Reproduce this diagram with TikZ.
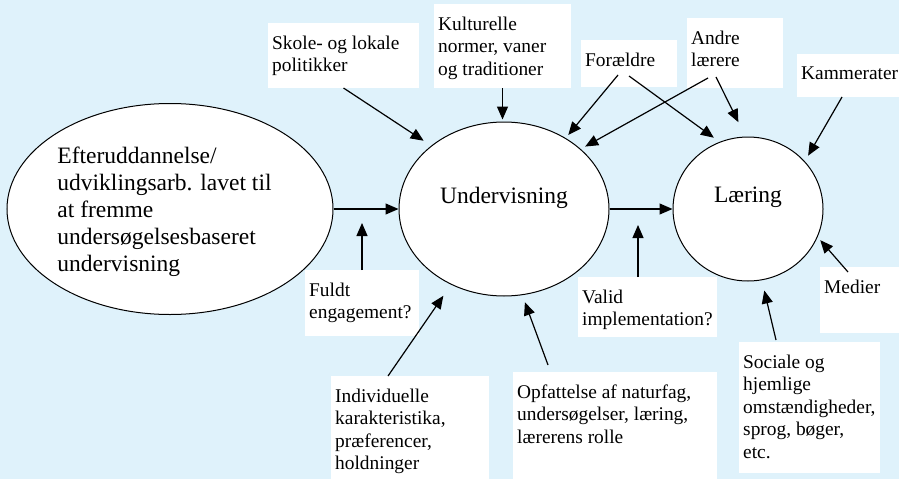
\documentclass[tikz,border=0pt]{standalone}
\usepackage{fontspec}
\setmainfont{Liberation Serif}
\usetikzlibrary{shapes.geometric, arrows.meta, positioning}
\definecolor{bgblue}{RGB}{223,242,251}

\begin{document}
\begin{tikzpicture}[x=1pt, y=-1pt,
    bubble/.style={ellipse, draw, fill=white, line width=1pt, inner sep=0pt},
    infobox/.style={rectangle, fill=white, anchor=north west, inner sep=0pt, outer sep=0pt},
    boxtext/.style={anchor=north west, align=left, inner xsep=4pt, inner ysep=12.5pt,
      font=\fontsize{19.4}{22.5}\selectfont},
    bigtext/.style={align=left, inner sep=0pt, font=\fontsize{23.5}{27}\selectfont},
    pil/.style={-{Triangle[length=13pt,width=11pt]}, line width=1.2pt}]
			\useasboundingbox (0,0) rectangle (899,479);
			\fill[bgblue] (0,0) rectangle (899,479);
			
			% de tre ellipser
			\node[bubble, minimum width=326pt, minimum height=211pt,
			  label={[bigtext, xshift=-5.5pt, yshift=-3pt]center:{Efteruddannelse/\\udviklingsarb. lavet til\\at fremme\\undersøgelsesbaseret\\undervisning}}] (efter) at (170,209) {};
			\node[bubble, minimum width=210pt, minimum height=174pt,
			  label={[bigtext, yshift=11.5pt]center:Undervisning}] (und) at (504,209) {};
			\node[bubble, minimum width=150pt, minimum height=144pt,
			  label={[bigtext, yshift=11.5pt]center:Læring}] (lae) at (748,209) {};
			
			% hvide tekstbokse
			\node[infobox, minimum width=151pt, minimum height=65pt,
			  label={[boxtext]north west:{Skole- og lokale\\politikker}}] (skole) at (268,23) {};
			\node[infobox, minimum width=137pt, minimum height=84pt,
			  label={[boxtext]north west:{Kulturelle\\normer, vaner\\og traditioner}}] (kultur) at (434,4) {};
			\node[infobox, minimum width=96pt, minimum height=47pt,
			  label={[boxtext]north west:{Forældre}}] (foraeldre) at (581,40) {};
			\node[infobox, minimum width=96pt, minimum height=70pt,
			  label={[boxtext]north west:{Andre\\lærere}}] (andre) at (687,18) {};
			\node[infobox, minimum width=102pt, minimum height=43pt,
			  label={[boxtext]north west:{Kammerater}}] (kammerat) at (797,54) {};
			\node[infobox, minimum width=114pt, minimum height=66pt,
			  label={[boxtext]north west:{Fuldt\\engagement?}}] (fuldt) at (305,270) {};
			\node[infobox, minimum width=139pt, minimum height=60pt,
			  label={[boxtext]north west:{Valid\\implementation?}}] (valid) at (578,277) {};
			\node[infobox, minimum width=79pt, minimum height=66pt,
			  label={[boxtext]north west:{Medier}}] (medier) at (820,267) {};
			\node[infobox, minimum width=158pt, minimum height=103pt,
			  label={[boxtext]north west:{Individuelle\\karakteristika,\\præferencer,\\holdninger}}] (indiv) at (331,376) {};
			\node[infobox, minimum width=204pt, minimum height=107pt,
			  label={[boxtext]north west:{Opfattelse af naturfag,\\undersøgelser, læring,\\lærerens rolle}}] (opfat) at (513,372) {};
			\node[infobox, minimum width=141pt, minimum height=131pt,
			  label={[boxtext]north west:{Sociale og\\hjemlige\\omstændigheder,\\sprog, bøger,\\etc.}}] (sociale) at (739,342) {};
			
			\coordinate (fuldtpil) at (362,223);
			\coordinate (validpil) at (638,225);
			
			\path[pil]
			(efter.east) edge (und.west)
			(und.east) edge (lae.west)
			(skole.south) edge[shorten >=9pt] (und.139.6)
			(kultur.south) edge[shorten >=2pt] (kultur.south |- und.north)
			([xshift=-11pt,yshift=12pt]foraeldre.south) edge[shorten >=4pt] (und.49.1)
			([yshift=11pt]foraeldre.south) edge[shorten >=7pt] (lae.113.7)
			([xshift=-27pt,yshift=10pt]andre.south) edge[shorten >=5pt] (und.38.2)
			([xshift=-19pt,yshift=11pt]andre.south) edge[shorten >=16pt] (lae.92.6)
			([xshift=-6pt]kammerat.south) edge[shorten >=6.5pt] (lae.40.4)
			([xshift=-11.5pt,yshift=-5pt]medier.north) edge[shorten >=4pt] (lae.338.3)
			([xshift=-33.5pt,yshift=2pt]sociale.north) edge[shorten >=10.5pt] (lae.281.2)
			([xshift=-67pt,yshift=7pt]opfat.north) edge[shorten >=7.5pt] (und.282.1)
			([xshift=-22pt]indiv.north) edge[shorten >=13.5pt] (und.235.9)
			(fuldt.north) edge (fuldtpil)
			(validpil |- valid.north) edge (validpil);
			
		\end{tikzpicture}
\end{document}
